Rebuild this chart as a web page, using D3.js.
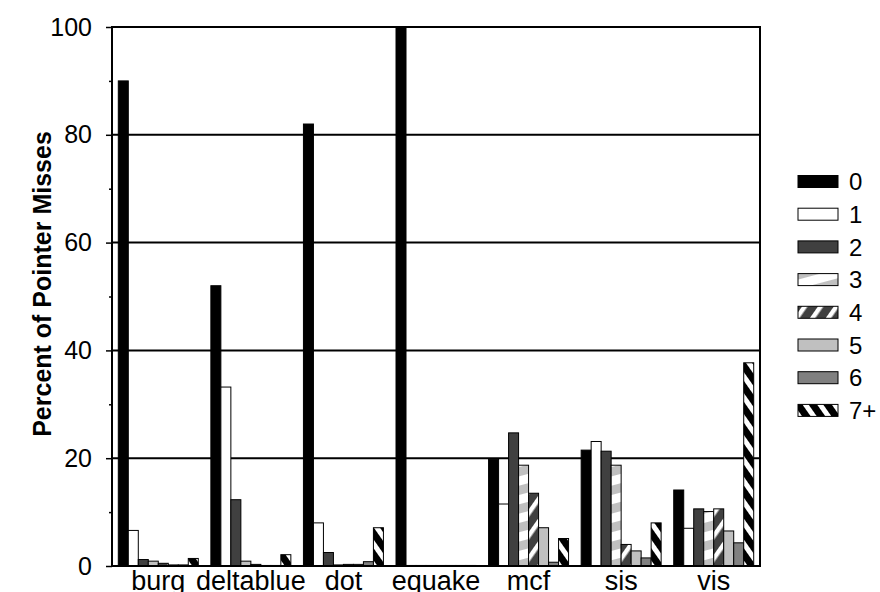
<!DOCTYPE html>
<html><head><meta charset="utf-8">
<script src="https://cdn.jsdelivr.net/npm/d3@7"></script>
<style>body{margin:0;background:#fff;font-family:"Liberation Sans",Arial,sans-serif}</style>
</head><body>
<svg id="c" width="880" height="592"></svg>
<script>
const categories = ["burg","deltablue","dot","equake","mcf","sis","vis"];
const seriesNames = ["0","1","2","3","4","5","6","7+"];
const s0  = [90.0, 52.0, 82.0, 100.0, 19.8, 21.5, 14.1];
const s1  = [6.6, 33.2, 8.0, 0.1, 11.5, 23.1, 7.0];
const s2  = [1.2, 12.3, 2.5, 0.1, 24.7, 21.3, 10.6];
const s3  = [0.9, 0.9, 0.2, 0.1, 18.7, 18.7, 10.1];
const s4  = [0.5, 0.3, 0.3, 0.1, 13.5, 4.0, 10.6];
const s5  = [0.2, 0.1, 0.3, 0.1, 7.1, 2.8, 6.5];
const s6  = [0.2, 0.1, 0.8, 0.1, 0.7, 1.5, 4.3];
const s7  = [1.4, 2.1, 7.1, 0.1, 5.1, 8.0, 37.7];
const seriesValues = [s0,s1,s2,s3,s4,s5,s6,s7];
const majorTicks = [0,20,40,60,80,100];
const minorTicks = [10,30,50,70,90];
const yTitle = "Percent of Pointer Misses";

const FONT = "Liberation Sans, Arial, sans-serif";
const svg = d3.select("#c");
const L=112, R=760, T=27, B=566;

const defs = svg.append("defs");
function stripes(id, base, angle, h, sw){
  const p = defs.append("pattern").attr("id",id).attr("patternUnits","userSpaceOnUse")
    .attr("width",10).attr("height",h).attr("patternTransform",`rotate(${angle})`);
  p.append("rect").attr("width",10).attr("height",h).attr("fill",base);
  p.append("rect").attr("width",10).attr("height",sw).attr("fill","#fff");
}
stripes("p3","#c0c0c0",-15,18,9);
stripes("p4","#404040",-55,13,4.5);
stripes("p7","#000000",55,12,5);
const fills = ["#000","#fff","#404040","url(#p3)","url(#p4)","#c0c0c0","#808080","url(#p7)"];

const x0 = d3.scaleBand().domain(categories).range([L,R]).paddingInner(0.136).paddingOuter(0.068);
const x1 = d3.scaleBand().domain(seriesNames).range([0,x0.bandwidth()]);
const y = d3.scaleLinear().domain([0,100]).range([B,T]);

// gridlines
svg.append("g").selectAll("line").data(majorTicks.filter(d=>d>0)).join("line")
  .attr("x1",L).attr("x2",R).attr("y1",d=>y(d)).attr("y2",d=>y(d))
  .attr("stroke","#000").attr("stroke-width",2);

// bars
const gs = svg.append("g").selectAll("g").data(categories).join("g")
  .attr("transform",d=>`translate(${x0(d)},0)`);
gs.selectAll("rect").data((c,ci)=>seriesNames.map((s,si)=>({s,si,v:seriesValues[si][ci]}))).join("rect")
  .attr("x",d=>x1(d.s)).attr("width",x1.bandwidth())
  .attr("y",d=>y(d.v)).attr("height",d=>B-y(d.v))
  .attr("fill",d=>fills[d.si]).attr("stroke","#000").attr("stroke-width",1);

// frame
svg.append("rect").attr("x",L).attr("y",T).attr("width",R-L).attr("height",B-T)
  .attr("fill","none").attr("stroke","#000").attr("stroke-width",2);

// y axis ticks
const yAxis = d3.axisLeft(y).tickValues(majorTicks).tickSize(6).tickPadding(14);
const ga = svg.append("g").attr("transform",`translate(${L},0)`).call(yAxis);
ga.select(".domain").remove();
ga.selectAll("line").attr("stroke-width",1.5);
ga.selectAll("text").attr("font-size",25).attr("font-family",FONT).attr("fill","#000");
const gm = svg.append("g").attr("transform",`translate(${L},0)`)
  .call(d3.axisLeft(y).tickValues(minorTicks).tickSize(3).tickFormat(""));
gm.select(".domain").remove();
gm.selectAll("line").attr("stroke-width",1.5);

// x labels
const gx = svg.append("g").attr("transform",`translate(0,${B})`)
  .call(d3.axisBottom(x0).tickSize(0).tickPadding(5));
gx.select(".domain").remove();
gx.selectAll("text").attr("font-size",27).attr("font-family",FONT).attr("fill","#000");

// y title
svg.append("text").attr("transform",`translate(51,284) rotate(-90)`)
  .attr("text-anchor","middle").attr("font-size",25).attr("font-weight","bold")
  .attr("font-family",FONT).text(yTitle);

// legend
const lg = svg.append("g").selectAll("g").data(seriesNames).join("g")
  .attr("transform",(d,i)=>`translate(798,${181.5+i*32.7})`);
lg.append("rect").attr("x",0).attr("y",-6).attr("width",40).attr("height",12)
  .attr("fill",(d,i)=>fills[i]).attr("stroke","#000").attr("stroke-width",1);
lg.append("text").attr("x",51).attr("y",0).attr("dy","0.36em").attr("font-size",24)
  .attr("font-family",FONT).text(d=>d);
</script>
</body></html>
